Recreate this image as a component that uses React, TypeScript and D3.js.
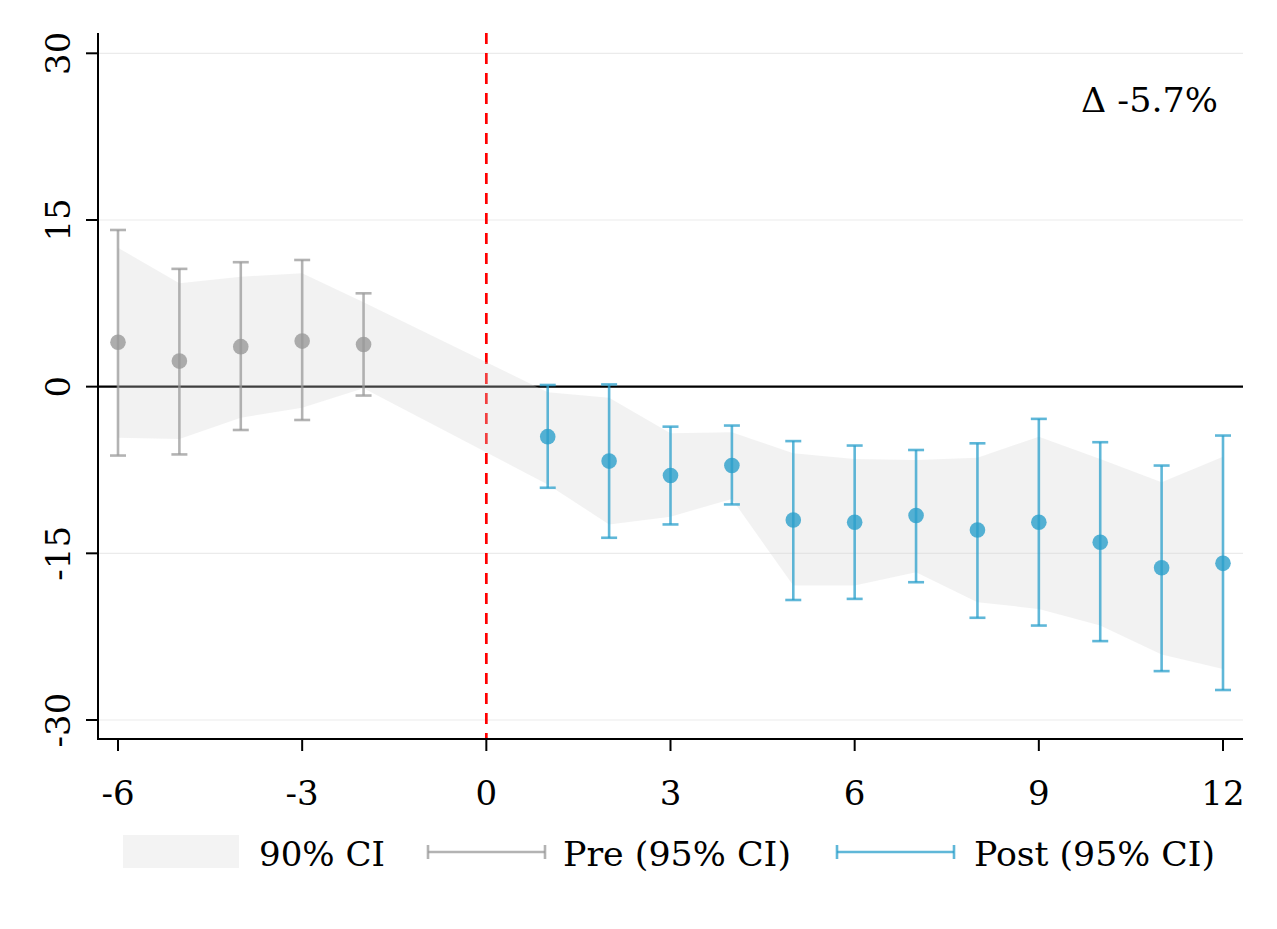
import { area, curveLinear, scaleLinear } from "d3";

// event-time coefficients
const preX = [-6, -5, -4, -3, -2];
const preEst = [4.0, 2.3, 3.6, 4.1, 3.8];
const preLo = [-6.2, -6.1, -3.9, -3.0, -0.8];
const preHi = [14.1, 10.6, 11.2, 11.4, 8.4];

const postX = [1, 2, 3, 4, 5, 6, 7, 8, 9, 10, 11, 12];
const postEst = [-4.5, -6.7, -8.0, -7.1, -12.0, -12.2, -11.6, -12.9, -12.2, -14.0, -16.3, -15.9];
const postLo = [-9.1, -13.6, -12.4, -10.6, -19.2, -19.1, -17.6, -20.8, -21.5, -22.9, -25.6, -27.3];
const postHi = [0.15, 0.2, -3.6, -3.5, -4.9, -5.3, -5.7, -5.1, -2.9, -5.0, -7.1, -4.4];

// 90% band
const bandX = [-6, -5, -4, -3, -2, 1, 2, 3, 4, 5, 6, 7, 8, 9, 10, 11, 12];
const bandLo = [-4.6, -4.7, -2.8, -1.9, -0.15, -8.8, -12.4, -11.7, -10.1, -17.9, -17.9, -16.7, -19.4, -20.0, -21.5, -24.1, -25.4];
const bandHi = [12.5, 9.3, 9.9, 10.2, 7.6, -0.5, -1.0, -4.2, -4.1, -6.0, -6.5, -6.6, -6.4, -4.5, -6.5, -8.6, -6.3];

const xTicks = [-6, -3, 0, 3, 6, 9, 12];
const yTicks = [30, 15, 0, -15, -30];
const legendLabels = ["90% CI", "Pre (95% CI)", "Post (95% CI)"];
const deltaLabel = "Δ -5.7%";
const treatTime = 0;

const W = 1277;
const H = 929;
const FONT = "DejaVu Serif, serif";
const PRE_COLOR = "#999999";
const POST_COLOR = "#2a9fcb";

export default function App() {
  const x = scaleLinear().domain([-6, 12]).range([118, 1223]);
  const y = scaleLinear().domain([-30, 30]).range([720, 53.3]);

  const left = 98;
  const right = 1243;
  const top = 33;
  const bottom = 739;

  const bandPath =
    area<number>()
      .x((_, i) => x(bandX[i]))
      .y0((_, i) => y(bandLo[i]))
      .y1((_, i) => y(bandHi[i]))
      .curve(curveLinear)(bandX) || "";

  const capHalf = 8;

  const bars = (
    xs: number[],
    est: number[],
    lo: number[],
    hi: number[],
    color: string,
    key: string
  ) =>
    xs.map((d, i) => (
      <g key={`${key}-${d}`}>
        <g stroke={color} strokeWidth={2.6} strokeOpacity={0.75}>
          <line x1={x(d)} x2={x(d)} y1={y(hi[i])} y2={y(lo[i])} />
          <line x1={x(d) - capHalf} x2={x(d) + capHalf} y1={y(hi[i])} y2={y(hi[i])} />
          <line x1={x(d) - capHalf} x2={x(d) + capHalf} y1={y(lo[i])} y2={y(lo[i])} />
        </g>
        <circle cx={x(d)} cy={y(est[i])} r={7.8} fill={color} fillOpacity={0.8} />
      </g>
    ));

  return (
    <svg
      width={W}
      height={H}
      viewBox={`0 0 ${W} ${H}`}
      style={{ position: "absolute", left: 0, top: 0, background: "#fff" }}
      fontFamily={FONT}
    >
      {/* grid */}
      {yTicks
        .filter((t) => t !== 0)
        .map((t) => (
          <line key={t} x1={left} x2={right} y1={y(t)} y2={y(t)} stroke="#ebebeb" strokeWidth={1.2} />
        ))}

      {/* zero line and treatment line sit under the band */}
      <line x1={left} x2={right} y1={y(0)} y2={y(0)} stroke="#000" strokeWidth={2.4} />
      <line
        x1={x(treatTime)}
        x2={x(treatTime)}
        y1={top}
        y2={bottom}
        stroke="#ff0000"
        strokeWidth={2.7}
        strokeDasharray="11 9"
      />

      <path d={bandPath} fill="#d4d4d4" fillOpacity={0.3} />

      {bars(preX, preEst, preLo, preHi, PRE_COLOR, "pre")}
      {bars(postX, postEst, postLo, postHi, POST_COLOR, "post")}

      {/* axes */}
      <g stroke="#000" strokeWidth={2}>
        <line x1={left} x2={left} y1={top} y2={bottom} />
        <line x1={left - 1} x2={right} y1={bottom} y2={bottom} />
        {yTicks.map((t) => (
          <line key={t} x1={left - 12} x2={left} y1={y(t)} y2={y(t)} />
        ))}
        {xTicks.map((t) => (
          <line key={t} x1={x(t)} x2={x(t)} y1={bottom} y2={bottom + 12} />
        ))}
      </g>
      {yTicks.map((t) => (
        <text
          key={t}
          transform={`translate(70,${y(t)}) rotate(-90)`}
          textAnchor="middle"
          fontSize={34}
          fontWeight={300}
          fill="#000"
        >
          {t}
        </text>
      ))}
      {xTicks.map((t) => (
        <text key={t} x={x(t)} y={805} textAnchor="middle" fontSize={34} fill="#000">
          {t}
        </text>
      ))}

      {/* annotation */}
      <text x={1081} y={112} fontSize={34} fill="#000" textLength={137} lengthAdjust="spacingAndGlyphs">
        {deltaLabel}
      </text>

      {/* legend */}
      <rect x={123} y={835} width={116} height={33} fill="#f3f3f3" />
      <text x={259} y={866} fontSize={34} textLength={126} lengthAdjust="spacingAndGlyphs">
        {legendLabels[0]}
      </text>
      <g stroke={PRE_COLOR} strokeOpacity={0.75} strokeWidth={2.6}>
        <line x1={428} x2={545} y1={852} y2={852} />
        <line x1={428} x2={428} y1={845} y2={859} />
        <line x1={545} x2={545} y1={845} y2={859} />
      </g>
      <text x={563} y={866} fontSize={34} textLength={228} lengthAdjust="spacingAndGlyphs">
        {legendLabels[1]}
      </text>
      <g stroke={POST_COLOR} strokeOpacity={0.75} strokeWidth={2.6}>
        <line x1={837} x2={954} y1={852} y2={852} />
        <line x1={837} x2={837} y1={845} y2={859} />
        <line x1={954} x2={954} y1={845} y2={859} />
      </g>
      <text x={974} y={866} fontSize={34} textLength={241} lengthAdjust="spacingAndGlyphs">
        {legendLabels[2]}
      </text>
    </svg>
  );
}
